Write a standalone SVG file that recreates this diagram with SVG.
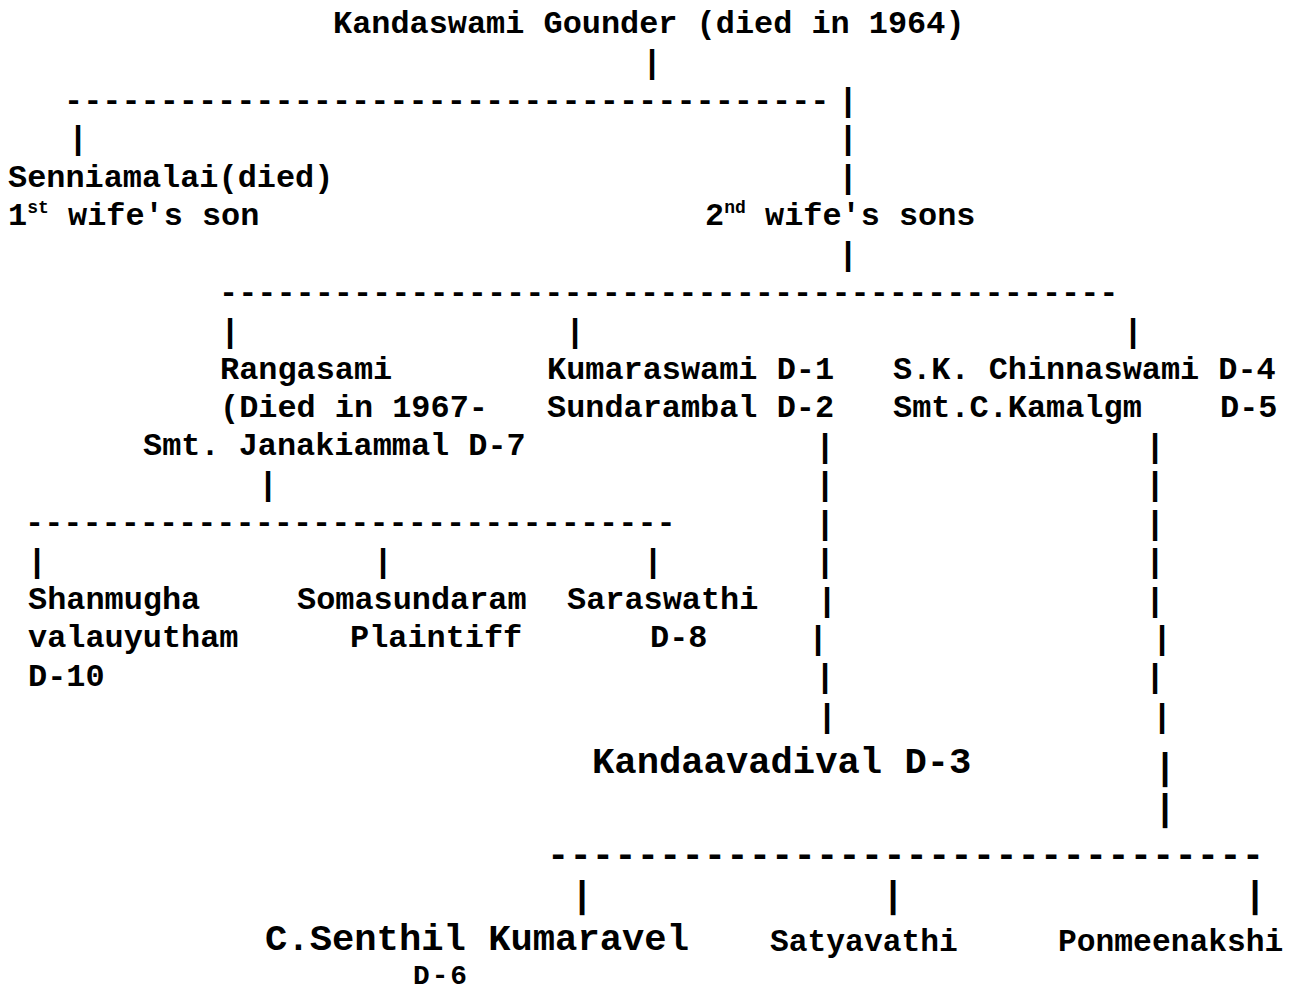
<svg xmlns="http://www.w3.org/2000/svg" width="1300" height="992" viewBox="0 0 1300 992">
<style>
text{font-family:"Liberation Mono","Courier New",monospace;font-weight:bold;fill:#000;}
.r{font-size:31.9px;}
.l{font-size:37.2px;}
.m{font-size:31.3px;}
.s{font-size:27.8px;}
.sup{font-size:18px;}
.p{text-anchor:middle;font-size:33.5px;}
.pl{text-anchor:middle;font-size:36px;}
.pb{text-anchor:middle;font-size:37px;}
</style>
<rect width="1300" height="992" fill="#fff"/>
<g id="connectors">
<text class="p" x="652" y="73">|</text>
<text class="r" x="64" y="109.8">----------------------------------------</text>
<text class="p" x="848" y="111">|</text>
<text class="p" x="78" y="149">|</text>
<text class="p" x="848" y="149">|</text>
<text class="p" x="848" y="188">|</text>
<text class="p" x="848" y="265">|</text>
<text class="r" x="219" y="301.8">-----------------------------------------------</text>
<text class="p" x="230" y="341.5">|</text>
<text class="p" x="575" y="341.5">|</text>
<text class="p" x="1133" y="341.5">|</text>
<text class="p" x="825" y="457">|</text>
<text class="p" x="1155" y="457">|</text>
<text class="p" x="268" y="495">|</text>
<text class="p" x="825" y="495">|</text>
<text class="p" x="1155" y="495">|</text>
<text class="r" x="25" y="532.2">----------------------------------</text>
<text class="p" x="825" y="533.5">|</text>
<text class="p" x="1155" y="533.5">|</text>
<text class="p" x="37" y="572">|</text>
<text class="p" x="383" y="572">|</text>
<text class="p" x="653" y="572">|</text>
<text class="p" x="825" y="572">|</text>
<text class="p" x="1155" y="572">|</text>
<text class="p" x="827" y="610.5">|</text>
<text class="p" x="1155" y="610.5">|</text>
<text class="p" x="818" y="649">|</text>
<text class="p" x="1162" y="649">|</text>
<text class="p" x="825" y="687">|</text>
<text class="p" x="1155" y="687">|</text>
<text class="p" x="827" y="727">|</text>
<text class="p" x="1162" y="727">|</text>
<text class="pl" x="1165" y="779">|</text>
<text class="pl" x="1165" y="820">|</text>
<text class="l" x="547" y="866" textLength="717" lengthAdjust="spacing">--------------------------------</text>
<text class="pb" x="582" y="907">|</text>
<text class="pb" x="893" y="907">|</text>
<text class="pb" x="1255" y="907">|</text>
</g>
<g id="n-kandaswami">
<text class="r" x="333" y="33">Kandaswami Gounder (died in 1964)</text>
</g>
<g id="n-senniamalai">
<text class="r" x="8" y="186.6">Senniamalai(died)</text>
<text class="r" x="8" y="225">1<tspan class="sup" dy="-12">st</tspan><tspan class="r" x="68" dy="12">wife's son</tspan></text>
</g>
<g id="n-second-wife">
<text class="r" x="705" y="225">2<tspan class="sup" dy="-12">nd</tspan><tspan class="r" x="765" dy="12">wife's sons</tspan></text>
</g>
<g id="n-rangasami">
<text class="r" x="220" y="378.6">Rangasami</text>
<text class="r" x="220" y="417">(Died in 1967-</text>
<text class="r" x="143" y="455.4">Smt. Janakiammal D-7</text>
</g>
<g id="n-kumaraswami">
<text class="r" x="547" y="378.6">Kumaraswami D-1</text>
<text class="r" x="547" y="417">Sundarambal D-2</text>
</g>
<g id="n-chinnaswami">
<text class="r" x="893" y="378.6">S.K. Chinnaswami D-4</text>
<text class="r" x="893" y="417">Smt.C.Kamalgm</text>
<text class="r" x="1220" y="417">D-5</text>
</g>
<g id="n-shanmugha">
<text class="r" x="28" y="609">Shanmugha</text>
<text class="r" x="28" y="647.4">valauyutham</text>
<text class="r" x="28" y="685.8">D-10</text>
</g>
<g id="n-somasundaram">
<text class="r" x="297" y="609">Somasundaram</text>
<text class="r" x="350" y="647.4">Plaintiff</text>
</g>
<g id="n-saraswathi">
<text class="r" x="567" y="609">Saraswathi</text>
<text class="r" x="650" y="647.4">D-8</text>
</g>
<g id="n-kandaavadival">
<text class="l" x="592" y="773">Kandaavadival D-3</text>
</g>
<g id="n-senthil">
<text class="l" x="265" y="949.5">C.Senthil Kumaravel</text>
<text class="s" x="413" y="984" textLength="54" lengthAdjust="spacing">D-6</text>
</g>
<g id="n-satyavathi">
<text class="m" x="770" y="950.5">Satyavathi</text>
</g>
<g id="n-ponmeenakshi">
<text class="m" x="1058" y="950.5">Ponmeenakshi</text>
</g>
</svg>
